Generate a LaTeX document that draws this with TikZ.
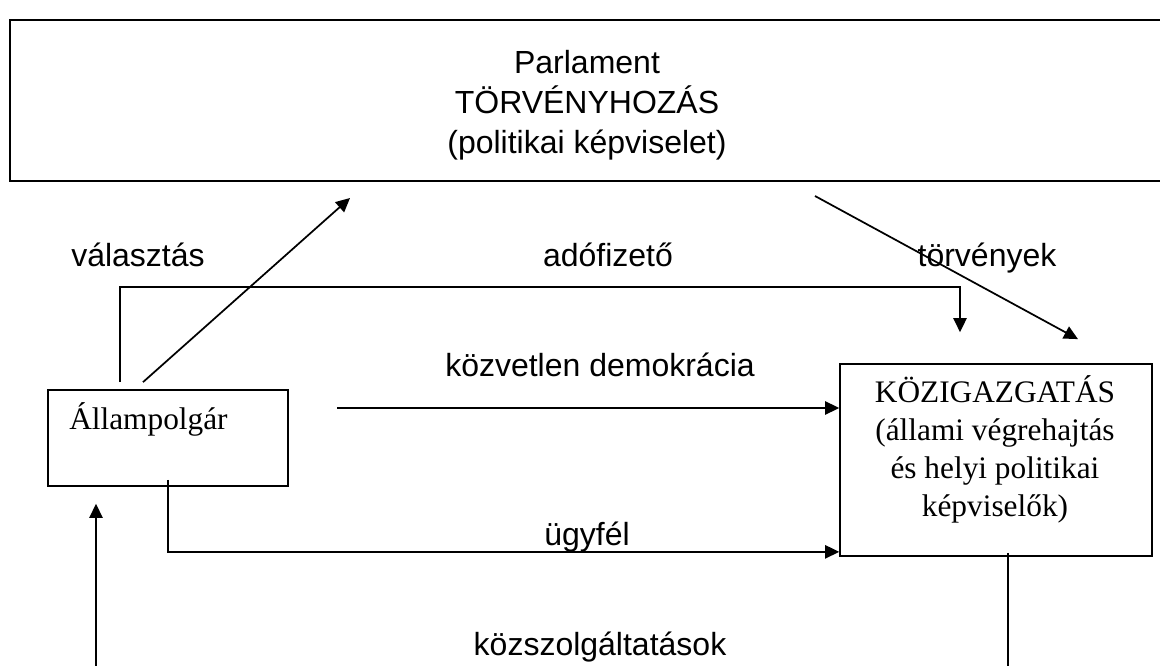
\documentclass[tikz,border=0pt]{standalone}
\usepackage{fontspec}
\setmainfont{Liberation Serif}
\setsansfont{Liberation Sans}
\usetikzlibrary{arrows.meta,positioning,calc}
\tikzset{
  bigbox/.style={draw=black, line width=2pt, minimum width=870pt, minimum height=120.75pt, inner sep=0pt},
  bigtext/.style={inner sep=0pt, align=center, font=\sffamily\fontsize{24}{30}\selectfont},
  box/.style={draw=black, line width=1.3pt, inner sep=0pt},
  boxtext/.style={inner sep=0pt, align=center, font=\fontsize{23.5}{28.5}\selectfont},
  lbl/.style={inner sep=0pt, anchor=base, font=\sffamily\fontsize{24}{28}\selectfont},
  arrow/.style={-{Triangle[length=10.5pt,width=10pt]}, line width=1.3pt},
  plain/.style={line width=1.3pt}
}

\begin{document}
\begin{tikzpicture}[x=0.75pt, y=-0.75pt]
\useasboundingbox (0,0) rectangle (1160,666);
% boxes
\node[bigbox] (parl) at (590,100.5) {};
\node[bigtext] (parltxt) at (587,105) {Parlament\\TÖRVÉNYHOZÁS\\(politikai képviselet)};
\node[box, minimum width=180pt, minimum height=72pt] (cit) at (168,438) {};
\node[boxtext, anchor=base west] (citname) at (69,430) {Állampolgár};
\node[box, minimum width=234pt, minimum height=144pt] (kozig) at (996,460) {};
\node[boxtext, anchor=north] (koztxt) at (995,375) {KÖZIGAZGATÁS\\(állami végrehajtás\\és helyi politikai\\képviselők)};

% free ends of the connectors
\coordinate (vote0) at ([shift={(-25,-7)}]cit.north);
\coordinate (vote1) at (350,198);
\coordinate (tax0) at ([shift={(-48,-7)}]cit.north);
\coordinate (tax1) at ([shift={(-36,-31)}]kozig.north);
\coordinate (law0) at (815,196);
\coordinate (law1) at ([shift={(82,-24)}]kozig.north);
\coordinate (dir0) at (337,408);
\coordinate (cli0) at ([shift={(0,-7)}]cit.south);
\coordinate (cli1) at ([shift={(0,-5)}]kozig.south west);
\coordinate (srv0) at ([shift={(12,-4)}]kozig.south);
\coordinate (srv1) at (srv0 |- 0,670);
\coordinate (ret1) at ([shift={(-72,17)}]cit.south);
\coordinate (ret0) at (ret1 |- 0,670);

% connectors
\draw[arrow] (vote0) -- (vote1);
\draw[arrow] (tax0) |- (tax1 |- 0,287) -- (tax1);
\draw[arrow] (law0) -- (law1);
\draw[arrow] (dir0) -- (kozig.west |- dir0);
\draw[arrow] (cli0) |- (cli1);
\draw[plain] (srv0) -- (srv1);
\draw[arrow] (ret0) -- (ret1);

% labels
\node[lbl] (lvote) at (138,267) {választás};
\node[lbl] (ltax) at (608,267) {adófizető};
\node[lbl] (llaw) at (987,267) {törvények};
\node[lbl] (ldir) at (600,377) {közvetlen demokrácia};
\node[lbl] (lcli) at (587,545) {ügyfél};
\node[lbl] (lsrv) at (600,655) {közszolgáltatások};
\end{tikzpicture}
\end{document}
